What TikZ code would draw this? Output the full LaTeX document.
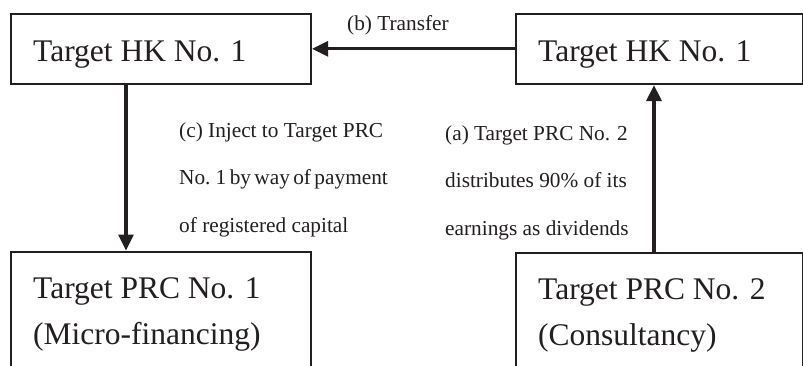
\documentclass[tikz,border=0pt]{standalone}
\usepackage{fontspec}
\setmainfont{Liberation Serif}
\usetikzlibrary{arrows.meta}
\definecolor{ink}{RGB}{35,31,32}
\tikzset{
  box/.style={draw=ink, line width=1.6pt, rectangle, inner sep=0pt, anchor=north west},
  big/.style={font=\fontsize{31.5}{46.5}\selectfont, text=ink, inner sep=0pt, anchor=base west, align=left},
  small/.style={font=\fontsize{21.3}{47.5}\selectfont, text=ink, inner sep=0pt, anchor=base west, align=left},
  arr/.style={draw=ink, line width=3.2pt, -{Triangle[length=16pt,width=15pt]}, shorten >=0.5pt},
}
\begin{document}
\begin{tikzpicture}[x=1pt, y=-1pt]
  \clip (0,0) rectangle (803,365);
  \fill[white] (0,0) rectangle (803,365);
  % boxes
  \node[box, minimum width=300pt, minimum height=70pt] (hk1) at (10,13) {};
  \node[box, minimum width=287pt, minimum height=70pt] (hk2) at (515,13) {};
  \node[box, minimum width=300pt, minimum height=140pt] (prc1) at (10,251) {};
  \node[box, minimum width=287pt, minimum height=140pt] (prc2) at (515,252) {};
  % texts (base anchor = baseline of the last line)
  \node[big] (thk1) at (33,61) {Target HK No. 1};
  \node[big] (thk2) at (538,61) {Target HK No. 1};
  \node[big] (tprc1) at (33,344.5) {Target PRC No. 1\\(Micro-financing)};
  \node[big] (tprc2) at (538,345.5) {Target PRC No. 2\\(Consultancy)};
  \node[small] (lb) at (347,30) {(b) Transfer};
  \node[small] (lc) at (179,232) {(c) Inject to Target PRC\\{\spaceskip=3.4pt No. 1 by way of payment}\\of registered capital};
  \node[small] (la) at (445,235) {(a) Target PRC No. 2\\distributes 90\% of its\\earnings as dividends};
  % connectors
  \coordinate (cx) at (126,0);
  \coordinate (ax) at (654,0);
  \draw[arr] (hk2.west) -- (hk1.east);
  \draw[arr] (hk1.south -| cx) -- (prc1.north -| cx);
  \draw[arr] (prc2.north -| ax) -- (hk2.south -| ax);
\end{tikzpicture}
\end{document}
